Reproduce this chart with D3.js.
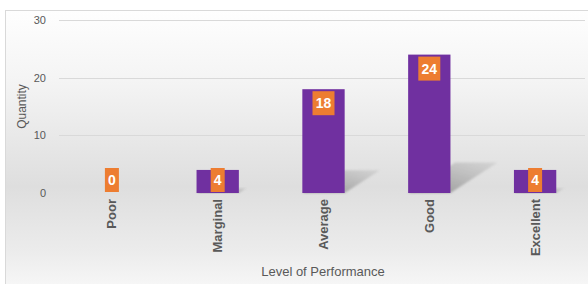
<!DOCTYPE html>
<html>
<head>
<meta charset="utf-8">
<script src="https://cdn.jsdelivr.net/npm/d3@7"></script>
<style>
  body { margin: 0; background: #fff; }
  text { font-family: "Liberation Sans", Arial, sans-serif; }
</style>
</head>
<body>
<script>
// data
let categories = ["Poor", "Marginal", "Average", "Good", "Excellent"];
let values = [0, 4, 18, 24, 4];
let yTicks = [0, 10, 20, 30];

let W = 588, H = 284;
let margin = { top: 20, right: 0, bottom: 91, left: 59 };

let svg = d3.select("body").append("svg")
    .attr("width", W)
    .attr("height", H);

let defs = svg.append("defs");

// background gradient
let bg = defs.append("linearGradient").attr("id", "bg")
    .attr("x1", 0).attr("y1", 0).attr("x2", 0).attr("y2", 1);
bg.append("stop").attr("offset", "0%").attr("stop-color", "#fefefe");
bg.append("stop").attr("offset", "25%").attr("stop-color", "#f4f4f4");
bg.append("stop").attr("offset", "62%").attr("stop-color", "#dedede");
bg.append("stop").attr("offset", "85%").attr("stop-color", "#ececec");
bg.append("stop").attr("offset", "100%").attr("stop-color", "#f9f9f9");

let sh = defs.append("linearGradient").attr("id", "shadow")
    .attr("x1", 0).attr("y1", 1).attr("x2", 1).attr("y2", 0);
sh.append("stop").attr("offset", "0%").attr("stop-color", "#8c8c8c").attr("stop-opacity", 0.95);
sh.append("stop").attr("offset", "100%").attr("stop-color", "#b0b0b0").attr("stop-opacity", 0.3);

defs.append("filter").attr("id", "blur")
    .append("feGaussianBlur").attr("stdDeviation", 1);

svg.append("rect")
    .attr("x", 5.5).attr("y", 10.5)
    .attr("width", W).attr("height", H)
    .attr("fill", "url(#bg)")
    .attr("stroke", "#d9d9d9");

let x = d3.scaleBand()
    .domain(categories)
    .range([margin.left, W - margin.right])
    .paddingInner(0.6)
    .paddingOuter(0.3);

let y = d3.scaleLinear()
    .domain([0, 30])
    .range([H - margin.bottom, margin.top]);

// gridlines
svg.append("g")
    .selectAll("line")
    .data(yTicks.filter(d => d > 0))
    .enter().append("line")
    .attr("x1", margin.left).attr("x2", W - 3)
    .attr("y1", d => Math.round(y(d)) + 0.5)
    .attr("y2", d => Math.round(y(d)) + 0.5)
    .attr("stroke", "#d9d9d9");

// y axis labels
svg.append("g")
    .selectAll("text")
    .data(yTicks)
    .enter().append("text")
    .attr("x", 46)
    .attr("y", d => y(d))
    .attr("dy", "0.35em")
    .attr("text-anchor", "end")
    .attr("font-size", 11)
    .attr("fill", "#595959")
    .text(d => d);

// shadows
let y0 = y(0);
svg.append("g")
    .selectAll("polygon")
    .data(values)
    .enter().append("polygon")
    .attr("points", (d, i) => {
        let h = y0 - y(d);
        let dx = h * 0.34, dy = h * 0.22;
        let x0 = x(categories[i]), x1 = x0 + x.bandwidth();
        return [[x0, y0], [x1, y0], [x1 + dx, y0 - dy], [x0 + dx, y0 - dy]].join(" ");
    })
    .attr("fill", "url(#shadow)")
    .attr("filter", "url(#blur)");

// bars
svg.append("g")
    .selectAll("rect")
    .data(values)
    .enter().append("rect")
    .attr("x", (d, i) => x(categories[i]))
    .attr("y", d => y(d))
    .attr("width", x.bandwidth())
    .attr("height", d => y0 - y(d))
    .attr("fill", "#7030a0");

// value labels
let lab = svg.append("g")
    .selectAll("g")
    .data(values)
    .enter().append("g")
    .attr("transform", (d, i) => {
        let cx = x(categories[i]) + x.bandwidth() / 2;
        let top = Math.min(y(d) + 2, y0 - 25);
        return "translate(" + cx + "," + top + ")";
    });

lab.append("rect")
    .attr("x", d => -(String(d).length * 8 + 6) / 2)
    .attr("y", 0)
    .attr("width", d => String(d).length * 8 + 6)
    .attr("height", 24)
    .attr("fill", "#ed7d31");

lab.append("text")
    .attr("y", 12)
    .attr("dy", "0.36em")
    .attr("text-anchor", "middle")
    .attr("font-size", 14)
    .attr("font-weight", "bold")
    .attr("fill", "#fff")
    .text(d => d);

// category labels
svg.append("g")
    .selectAll("text")
    .data(categories)
    .enter().append("text")
    .attr("transform", d => "translate(" + (x(d) + x.bandwidth() / 2) + "," + (y0 + 6) + ") rotate(-90)")
    .attr("dy", "0.35em")
    .attr("text-anchor", "end")
    .attr("font-size", 13)
    .attr("font-weight", "bold")
    .attr("fill", "#595959")
    .text(d => d);

// axis titles
svg.append("text")
    .attr("transform", "translate(26," + (y(15)) + ") rotate(-90)")
    .attr("text-anchor", "middle")
    .attr("font-size", 12)
    .attr("fill", "#595959")
    .text("Quantity");

svg.append("text")
    .attr("x", 323)
    .attr("y", 276)
    .attr("text-anchor", "middle")
    .attr("font-size", 13)
    .attr("fill", "#595959")
    .text("Level of Performance");
</script>
</body>
</html>
